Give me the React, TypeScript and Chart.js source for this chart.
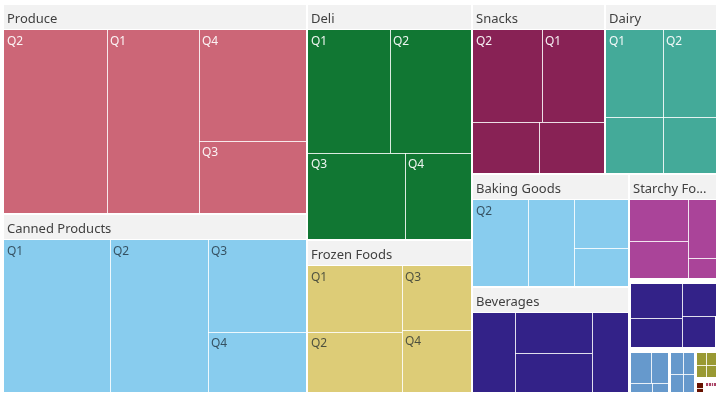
import React, { useEffect, useRef } from "react";
import { Chart, registerables } from "chart.js";

Chart.register(...registerables);

// ---- data (sales by product group and quarter) ----
const groupNames = [
  "Produce",
  "Canned Products",
  "Deli",
  "Frozen Foods",
  "Snacks",
  "Dairy",
  "Baking Goods",
  "Beverages",
  "Starchy Foods",
  "Breakfast Foods",
  "Meat",
  "Seafood",
  "Eggs",
  "Alcoholic Beverages",
  "Baked Goods",
  "Snack Foods",
];

const produceQ = ["Q2", "Q1", "Q4", "Q3"];
const produceV = [217.8, 194.5, 137.2, 88.9];
const cannedQ = ["Q1", "Q2", "Q3", "Q4"];
const cannedV = [191.0, 176.6, 106.9, 69.7];
const deliQ = ["Q1", "Q2", "Q3", "Q4"];
const deliV = [115.2, 112.4, 96.0, 64.3];
const frozenQ = ["Q1", "Q2", "Q3", "Q4"];
const frozenV = [77.1, 69.1, 54.1, 51.7];
const snacksQ = ["Q2", "Q1", "Q3", "Q4"];
const snacksV = [77.7, 68.8, 41.2, 40.0];
const dairyQ = ["Q1", "Q2", "Q3", "Q4"];
const dairyV = [59.4, 56.2, 38.2, 36.3];
const bakingQ = ["Q2", "Q1", "Q3", "Q4"];
const bakingV = [63.8, 52.4, 34.3, 27.2];
const beveragesQ = ["Q1", "Q2", "Q3", "Q4"];
const beveragesV = [45.4, 41.8, 41.6, 38.2];
const starchyQ = ["Q1", "Q2", "Q3", "Q4"];
const starchyV = [32.6, 29.6, 22.3, 7.4];
const breakfastQ = ["Q1", "Q2", "Q3", "Q4"];
const breakfastV = [20.1, 16.8, 12.0, 11.8];
const meatQ = ["Q1", "Q2", "Q3", "Q4"];
const meatV = [7.8, 6.2, 2.5, 1.9];
const seafoodQ = ["Q1", "Q2", "Q3", "Q4"];
const seafoodV = [3.3, 3.0, 2.9, 2.6];
const eggsQ = ["Q1", "Q2", "Q3", "Q4"];
const eggsV = [1.7, 1.65, 1.6, 1.55];
const alcoholQ = ["Q1", "Q2"];
const alcoholV = [0.7, 0.6];
const bakedQ = ["Q1", "Q2", "Q3", "Q4"];
const bakedV = [0.3, 0.28, 0.27, 0.25];
const snackFoodsQ = ["Q1", "Q2"];
const snackFoodsV = [0.45, 0.35];

const groupColors = [
  "#cc6677",
  "#88ccee",
  "#117733",
  "#ddcc77",
  "#882255",
  "#44aa99",
  "#88ccee",
  "#332288",
  "#aa4499",
  "#332288",
  "#6699cc",
  "#6699cc",
  "#999933",
  "#661100",
  "#aa4466",
  "#cc6677",
];

const groupQuarters = [
  produceQ, cannedQ, deliQ, frozenQ, snacksQ, dairyQ, bakingQ, beveragesQ,
  starchyQ, breakfastQ, meatQ, seafoodQ, eggsQ, alcoholQ, bakedQ, snackFoodsQ,
];
const groupValues = [
  produceV, cannedV, deliV, frozenV, snacksV, dairyV, bakingV, beveragesV,
  starchyV, breakfastV, meatV, seafoodV, eggsV, alcoholV, bakedV, snackFoodsV,
];

type Rect = { x0: number; y0: number; x1: number; y1: number };

function sum(a: number[]) {
  return a.reduce((s, v) => s + v, 0);
}

function worst(row: number[], side: number) {
  const s = sum(row);
  const mx = Math.max(...row);
  const mn = Math.min(...row);
  return Math.max((side * side * mx) / (s * s), (s * s) / (side * side * mn));
}

function squarify(values: number[], rect: Rect): Rect[] {
  const idx = values.map((_, i) => i).sort((a, b) => values[b] - values[a]);
  const total = sum(values);
  const area = (rect.x1 - rect.x0) * (rect.y1 - rect.y0);
  const areas = values.map((v) => (v / total) * area);
  const out: Rect[] = new Array(values.length);
  let { x0, y0, x1, y1 } = rect;
  let i = 0;
  while (i < idx.length) {
    const w = x1 - x0;
    const h = y1 - y0;
    const side = Math.min(w, h);
    const row = [idx[i]];
    i++;
    while (i < idx.length) {
      const cur = worst(row.map((k) => areas[k]), side);
      const nxt = worst([...row, idx[i]].map((k) => areas[k]), side);
      if (nxt <= cur) {
        row.push(idx[i]);
        i++;
      } else break;
    }
    const s = sum(row.map((k) => areas[k]));
    if (w >= h) {
      const cw = s / h;
      let y = y0;
      for (const k of row) {
        const hh = areas[k] / cw;
        out[k] = { x0, y0: y, x1: x0 + cw, y1: y + hh };
        y += hh;
      }
      x0 += cw;
    } else {
      const rh = s / w;
      let x = x0;
      for (const k of row) {
        const ww = areas[k] / rh;
        out[k] = { x0: x, y0, x1: x + ww, y1: y0 + rh };
        x += ww;
      }
      y0 += rh;
    }
  }
  return out;
}

function isLight(hex: string) {
  const r = parseInt(hex.slice(1, 3), 16);
  const g = parseInt(hex.slice(3, 5), 16);
  const b = parseInt(hex.slice(5, 7), 16);
  return 0.299 * r + 0.587 * g + 0.114 * b > 165;
}

const HEADER_FONT = '13px "Noto Sans", "Open Sans", sans-serif';
const LABEL_FONT = '12px "Noto Sans", "Open Sans", sans-serif';

const treemapPlugin = {
  id: "treemapPlugin",
  afterDraw(chart: any) {
    const ctx: CanvasRenderingContext2D = chart.ctx;
    const xs = chart.scales.x;
    const ys = chart.scales.y;
    const area: Rect = {
      x0: xs.getPixelForValue(0),
      x1: xs.getPixelForValue(1),
      y0: ys.getPixelForValue(0),
      y1: ys.getPixelForValue(1),
    };
    const totals = groupValues.map((v) => sum(v));
    const groupRects = squarify(totals, area);
    const R = Math.round;

    ctx.save();
    groupRects.forEach((r, gi) => {
      const color = groupColors[gi];
      const hasHeader = r.y1 - r.y0 >= 80;
      let inner: Rect;
      if (hasHeader) {
        const hx0 = R(r.x0 + 1), hx1 = R(r.x1 - 1);
        const hy0 = R(r.y0 + 1), hy1 = R(r.y0 + 25);
        ctx.fillStyle = "#f2f2f2";
        ctx.fillRect(hx0, hy0, hx1 - hx0, hy1 - hy0);
        // header text with truncation
        ctx.font = HEADER_FONT;
        ctx.fillStyle = "#404040";
        ctx.textBaseline = "alphabetic";
        const avail = hx1 - hx0 - 8;
        let name = groupNames[gi];
        if (ctx.measureText(name).width > avail) {
          let n = name.length;
          while (n > 0 && ctx.measureText(name.slice(0, n) + "...").width > avail) n--;
          name = name.slice(0, n) + "...";
        }
        ctx.fillText(name, hx0 + 3, hy0 + 18);
        inner = { x0: r.x0 + 1, y0: r.y0 + 26, x1: r.x1 - 1, y1: r.y1 - 1 };
      } else {
        inner = { x0: r.x0 + 1.5, y0: r.y0 + 5.4, x1: r.x1 - 1.5, y1: r.y1 - 1 };
      }
      const cells = squarify(groupValues[gi], inner);
      const ix1 = R(inner.x1), iy1 = R(inner.y1);
      cells.forEach((c) => {
        const cx0 = R(c.x0), cy0 = R(c.y0), cx1 = R(c.x1), cy1 = R(c.y1);
        ctx.fillStyle = color;
        ctx.fillRect(cx0, cy0, cx1 - cx0, cy1 - cy0);
      });
      ctx.fillStyle = "rgba(255,255,255,0.85)";
      cells.forEach((c) => {
        const cx0 = R(c.x0), cy0 = R(c.y0), cx1 = R(c.x1), cy1 = R(c.y1);
        if (cx1 < ix1) ctx.fillRect(cx1, cy0, 1, cy1 - cy0);
        if (cy1 < iy1) ctx.fillRect(cx0, cy1, cx1 - cx0, 1);
      });
      ctx.font = LABEL_FONT;
      ctx.textBaseline = "alphabetic";
      ctx.fillStyle = isLight(color) ? "rgba(20,30,40,0.72)" : "rgba(255,255,255,0.93)";
      cells.forEach((c, ci) => {
        const w = c.x1 - c.x0, h = c.y1 - c.y0;
        if (w >= 50 && h >= 58) {
          ctx.fillText(groupQuarters[gi][ci], R(c.x0) + 3, R(c.y0) + 15);
        }
      });
    });
    ctx.restore();
  },
};

export default function App() {
  const ref = useRef<HTMLCanvasElement | null>(null);
  useEffect(() => {
    if (!ref.current) return;
    const chart = new Chart(ref.current, {
      type: "scatter",
      data: { datasets: [{ label: "Sales", data: [] }] },
      options: {
        animation: false,
        responsive: false,
        layout: { padding: { left: 3, top: 4, right: 2, bottom: 6 } },
        plugins: { legend: { display: false }, tooltip: { enabled: false } },
        scales: {
          x: { type: "linear", min: 0, max: 1, display: false },
          y: { type: "linear", min: 0, max: 1, reverse: true, display: false },
        },
      },
      plugins: [treemapPlugin],
    } as any);
    return () => chart.destroy();
  }, []);
  return (
    <div style={{ position: "absolute", left: 0, top: 0, width: 719, height: 399, background: "#fff" }}>
      <canvas ref={ref} width={719} height={399} />
    </div>
  );
}
